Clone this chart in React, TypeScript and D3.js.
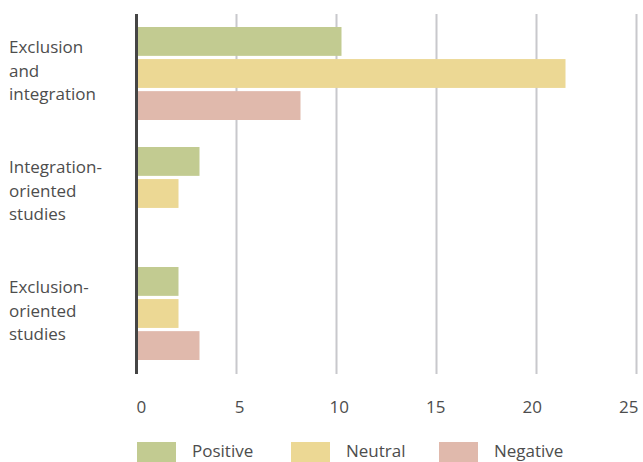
import React, { useEffect, useRef } from 'react';
import * as d3 from 'd3';

const categories = ['Exclusion and integration', 'Integration-oriented studies', 'Exclusion-oriented studies'];
const categoryLines = [
  ['Exclusion', 'and', 'integration'],
  ['Integration-', 'oriented', 'studies'],
  ['Exclusion-', 'oriented', 'studies'],
];
const series = ['Positive', 'Neutral', 'Negative'];
const positive = [10.25, 3.15, 2.1];
const neutral = [21.45, 2.1, 2.1];
const negative = [8.2, 0, 3.15];
const xTicks = [0, 5, 10, 15, 20, 25];

const colors = ['#c2cb91', '#ecd894', '#e0b9ac'];

function App() {
  const svgRef = useRef<SVGSVGElement>(null);

  useEffect(() => {
    document.body.style.margin = '0';
    const svg = d3.select(svgRef.current);
    svg.selectAll('*').remove();

    const width = 643;
    const height = 462;
    const font = '"Open Sans", "Noto Sans", sans-serif';
    const textColor = '#4d4d4d';

    const x = d3.scaleLinear().domain([0, 25]).range([136.5, 636.5]);
    const y0 = d3.scaleBand().domain(categories).range([14, 374]).padding(0);
    const y1 = d3.scaleBand().domain(series).range([13, 106]).paddingInner(0.1).paddingOuter(0);

    const values = [positive, neutral, negative];

    // gridlines
    svg.append('g')
      .selectAll('line')
      .data(xTicks.slice(1))
      .join('line')
      .attr('x1', (d) => x(d))
      .attr('x2', (d) => x(d))
      .attr('y1', 14)
      .attr('y2', 374)
      .attr('stroke', '#c8c8cc')
      .attr('stroke-width', 2);

    // bars
    const groups = svg.append('g')
      .selectAll('g')
      .data(categories)
      .join('g')
      .attr('transform', (d) => `translate(0,${y0(d)})`);

    groups.selectAll('rect')
      .data((d) => series.map((s, j) => ({ s, v: values[j][categories.indexOf(d)], j })))
      .join('rect')
      .attr('x', x(0) + 1.5)
      .attr('y', (d) => y1(d.s)!)
      .attr('height', y1.bandwidth())
      .attr('width', (d) => (d.v > 0 ? Math.max(0, x(d.v) - x(0) - 1.5) : 0))
      .attr('fill', (d) => colors[d.j]);

    // axis line
    svg.append('line')
      .attr('x1', x(0))
      .attr('x2', x(0))
      .attr('y1', 14)
      .attr('y2', 374)
      .attr('stroke', '#454545')
      .attr('stroke-width', 3);

    // category labels
    categories.forEach((c, i) => {
      const center = y0(c)! + y0.bandwidth() / 2;
      svg.append('text')
        .attr('font-family', font)
        .attr('font-size', 17)
        .attr('fill', textColor)
        .selectAll('tspan')
        .data(categoryLines[i])
        .join('tspan')
        .attr('x', 9)
        .attr('y', (d, k) => center + 2.5 + (k - 1) * 23.3)
        .text((d) => d);
    });

    // tick labels, anchor drifting from start to end
    const tickText = svg.append('g')
      .selectAll('text')
      .data(xTicks)
      .join('text')
      .attr('y', 413)
      .attr('font-family', font)
      .attr('font-size', 17)
      .attr('fill', textColor)
      .text((d) => d);
    tickText.each(function (d, i) {
      const w = (this as SVGTextElement).getComputedTextLength();
      d3.select(this).attr('x', x(d) - (i / (xTicks.length - 1)) * w * 0.9);
    });

    // legend
    const legendX = [137, 291, 439];
    const legend = svg.append('g')
      .selectAll('g')
      .data(series)
      .join('g')
      .attr('transform', (d, i) => `translate(${legendX[i]},0)`);
    legend.append('rect')
      .attr('x', 0)
      .attr('y', 442)
      .attr('width', 39)
      .attr('height', 20)
      .attr('fill', (d, i) => colors[i]);
    legend.append('text')
      .attr('x', 55)
      .attr('y', 457)
      .attr('font-family', font)
      .attr('font-size', 17)
      .attr('fill', textColor)
      .text((d) => d);

    svg.attr('width', width).attr('height', height);
  }, []);

  return <svg ref={svgRef} width={643} height={462} style={{ display: 'block' }}></svg>;
}

export default App;
